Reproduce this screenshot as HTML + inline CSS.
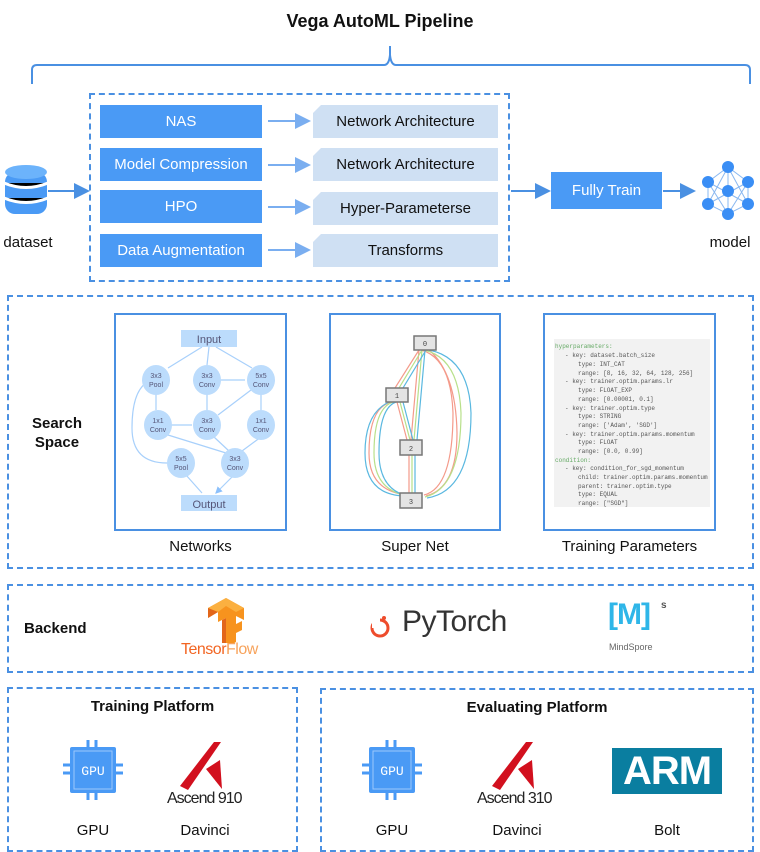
<!DOCTYPE html>
<html><head><meta charset="utf-8"><style>
body{margin:0;width:760px;height:852px;background:#fff;font-family:"Liberation Sans",sans-serif;position:relative;overflow:hidden}
.a{position:absolute}
.dash{position:absolute;border:2px dashed #4a90e2;box-sizing:border-box}
.bb{position:absolute;background:#4a9af5;color:#fff;font-size:15px;display:flex;align-items:center;justify-content:center}
.lb{position:absolute;background:#cfe0f3;color:#111;font-size:15px;display:flex;align-items:center;justify-content:center;clip-path:polygon(8px 0,100% 0,100% 100%,0 100%,0 8px)}
.t{position:absolute;font-size:15px;color:#111;text-align:center}
.panel{position:absolute;border:2px solid #4a90e2;box-sizing:border-box;background:#fff}
</style></head><body>
<div class="t" style="left:0;width:760px;top:11px;font-size:18px;font-weight:bold">Vega AutoML Pipeline</div>
<svg class="a" style="left:0;top:0" width="760" height="300">
<path d="M32,84 V70 Q32,65 37,65 H384 Q389,65 390,55 V46 M390,55 Q391,65 396,65 H745 Q750,65 750,70 V84" fill="none" stroke="#4a90e2" stroke-width="2"/>
<defs><marker id="ar" markerWidth="8" markerHeight="8" refX="7" refY="4" orient="auto"><path d="M0,0 L8,4 L0,8z" fill="#4a90e2"/></marker>
<marker id="al" markerWidth="8" markerHeight="8" refX="7" refY="4" orient="auto"><path d="M0,0 L8,4 L0,8z" fill="#7aaef0"/></marker></defs>
<g stroke="#7aaef0" stroke-width="2" marker-end="url(#al)">
<line x1="268" y1="121" x2="309" y2="121"/><line x1="268" y1="165" x2="309" y2="165"/>
<line x1="268" y1="207" x2="309" y2="207"/><line x1="268" y1="250" x2="309" y2="250"/></g>
<g stroke="#4a90e2" stroke-width="2" marker-end="url(#ar)">
<line x1="48" y1="191" x2="88" y2="191"/><line x1="511" y1="191" x2="549" y2="191"/><line x1="663" y1="191" x2="694" y2="191"/></g>
<g fill="#4a9af5"><rect x="5" y="172" width="42" height="42" rx="10"/></g>
<ellipse cx="26" cy="172" rx="21" ry="7" fill="#6cb3fb"/>
<g stroke="#fff" stroke-width="3"><path d="M4,183 Q26,192 48,183 M4,198 Q26,207 48,198"/></g>
<g stroke="#8ab8f0" stroke-width="1" fill="none"><path d="M728,167 L708,182 L708,204 L728,214 L748,204 L748,182 Z M728,167 L728,191 L728,214 M708,182 L748,204 M748,182 L708,204 M708,182 L728,214 M748,182 L728,214 M728,167 L708,204 M728,167 L748,204"/></g>
<g fill="#3a8ef5"><circle cx="728" cy="167" r="6"/><circle cx="708" cy="182" r="6"/><circle cx="748" cy="182" r="6"/><circle cx="728" cy="191" r="6"/><circle cx="708" cy="204" r="6"/><circle cx="748" cy="204" r="6"/><circle cx="728" cy="214" r="6"/></g>
</svg>
<div class="dash" style="left:89px;top:93px;width:421px;height:189px"></div>
<div class="bb" style="left:100px;top:105px;width:162px;height:33px">NAS</div>
<div class="bb" style="left:100px;top:148px;width:162px;height:33px">Model Compression</div>
<div class="bb" style="left:100px;top:190px;width:162px;height:33px">HPO</div>
<div class="bb" style="left:100px;top:234px;width:162px;height:33px">Data Augmentation</div>
<div class="lb" style="left:313px;top:105px;width:185px;height:33px">Network Architecture</div>
<div class="lb" style="left:313px;top:148px;width:185px;height:33px">Network Architecture</div>
<div class="lb" style="left:313px;top:192px;width:185px;height:33px">Hyper-Parameterse</div>
<div class="lb" style="left:313px;top:234px;width:185px;height:33px">Transforms</div>
<div class="bb" style="left:551px;top:172px;width:111px;height:37px">Fully Train</div>
<div class="t" style="left:0;top:234px;width:56px">dataset</div>
<div class="t" style="left:700px;top:234px;width:60px">model</div>

<div class="dash" style="left:7px;top:295px;width:747px;height:274px"></div>
<div class="t" style="left:22px;top:414px;width:70px;font-weight:bold;line-height:19px">Search<br>Space</div>
<div class="panel" style="left:114px;top:313px;width:173px;height:218px">
<svg width="169" height="214" style="font-family:'Liberation Sans';font-size:7px;position:absolute;left:-2px;top:-2px">
<defs><marker id="sa" markerWidth="6" markerHeight="6" refX="5" refY="3" orient="auto"><path d="M0,0 L6,3 L0,6z" fill="#8cc0fb"/></marker></defs>
<g stroke="#a8d0fb" stroke-width="1.2" fill="none" marker-end="url(#sa)">
<path d="M88,34 L54,55 M95,34 L93,52 M102,34 L138,55 M42,81 V97 M93,81 V97 M107,67 H131 M147,81 V97 M137,77 L104,102 M56,112 H78 M54,122 L112,140 M100,124 L115,138 M147,124 L128,138 M32,70 Q18,80 18,115 Q18,150 53,150 M72,162 L88,180 M118,164 L102,180"/></g>
<g fill="#bcdcfc"><rect x="67" y="17" width="56" height="17"/><rect x="67" y="182" width="56" height="16"/>
<ellipse cx="42" cy="67" rx="14" ry="15"/><ellipse cx="93" cy="67" rx="14" ry="15"/><ellipse cx="147" cy="67" rx="14" ry="15"/>
<ellipse cx="44" cy="112" rx="14" ry="15"/><ellipse cx="93" cy="112" rx="14" ry="15"/><ellipse cx="147" cy="112" rx="14" ry="15"/>
<ellipse cx="67" cy="150" rx="14" ry="15"/><ellipse cx="121" cy="150" rx="14" ry="15"/></g>
<g fill="#557" text-anchor="middle"><text x="95" y="30" font-size="11">Input</text><text x="95" y="195" font-size="11">Output</text>
<text x="42" y="65">3x3</text><text x="42" y="74">Pool</text><text x="93" y="65">3x3</text><text x="93" y="74">Conv</text><text x="147" y="65">5x5</text><text x="147" y="74">Conv</text>
<text x="44" y="110">1x1</text><text x="44" y="119">Conv</text><text x="93" y="110">3x3</text><text x="93" y="119">Conv</text><text x="147" y="110">1x1</text><text x="147" y="119">Conv</text>
<text x="67" y="148">5x5</text><text x="67" y="157">Pool</text><text x="121" y="148">3x3</text><text x="121" y="157">Conv</text></g></svg></div>
<div class="panel" style="left:329px;top:313px;width:172px;height:218px">
<svg width="172" height="218" style="font-family:'Liberation Mono';font-size:7px;position:absolute;left:-2px;top:-2px">
<g fill="none" stroke-width="1.2">
<path d="M90,37 L66,75 M92,37 Q122,45 124,100 Q124,175 95,182 M62,89 Q40,95 40,140 Q40,178 78,182 M68,89 L78,127 M90,37 L82,127 M80,142 L80,180 M100,37 Q127,60 128,120 Q128,175 97,183" stroke="#f49a8a"/>
<path d="M93,37 L70,75 M95,37 Q130,45 132,100 Q132,175 96,184 M64,89 Q45,95 45,140 Q45,178 80,183 M71,89 L81,127 M93,37 L85,127 M83,142 L83,180" stroke="#b8e08a"/>
<path d="M97,37 L74,75 M100,37 Q140,45 142,100 Q142,178 98,185 M67,89 Q50,95 50,140 Q50,178 82,184 M74,89 L84,127 M96,37 L88,127 M86,142 L86,180 M60,89 Q36,100 36,140 Q36,182 76,183" stroke="#5ab8e0"/></g>
<g fill="#e4e4e4" stroke="#777" stroke-width="1.5"><rect x="85" y="23" width="22" height="14"/><rect x="57" y="75" width="22" height="14"/><rect x="71" y="127" width="22" height="15"/><rect x="71" y="180" width="22" height="15"/></g>
<g fill="#444" text-anchor="middle"><text x="96" y="33">0</text><text x="68" y="85">1</text><text x="82" y="138">2</text><text x="82" y="191">3</text></g></svg></div>
<div class="panel" style="left:543px;top:313px;width:173px;height:218px">
<div class="a" style="left:9px;top:24px;width:156px;height:168px;background:#f2f2f2"></div>
<svg class="a" style="left:0;top:0" width="169" height="214"><g font-family="Liberation Mono" font-size="6" fill="#555">
<text x="10" y="33" fill="#6a6">hyperparameters:</text>
<text x="20" y="42">-  key: dataset.batch_size</text><text x="33" y="51">type: INT_CAT</text><text x="33" y="60">range: [8, 16, 32, 64, 128, 256]</text>
<text x="20" y="68">-  key: trainer.optim.params.lr</text><text x="33" y="77">type: FLOAT_EXP</text><text x="33" y="86">range: [0.00001, 0.1]</text>
<text x="20" y="95">-  key: trainer.optim.type</text><text x="33" y="103">type: STRING</text><text x="33" y="112">range: ['Adam', 'SGD']</text>
<text x="20" y="121">-  key: trainer.optim.params.momentum</text><text x="33" y="129">type: FLOAT</text><text x="33" y="138">range: [0.0, 0.99]</text>
<text x="10" y="147" fill="#6a6">condition:</text>
<text x="20" y="155">-  key: condition_for_sgd_momentum</text><text x="33" y="164">child: trainer.optim.params.momentum</text><text x="33" y="173">parent: trainer.optim.type</text><text x="33" y="181">type: EQUAL</text><text x="33" y="190">range: ["SGD"]</text>
</g></svg></div>
<div class="t" style="left:114px;top:538px;width:173px">Networks</div>
<div class="t" style="left:329px;top:538px;width:172px">Super Net</div>
<div class="t" style="left:543px;top:538px;width:173px">Training Parameters</div>

<div class="dash" style="left:7px;top:584px;width:747px;height:89px"></div>
<div class="t" style="left:24px;top:620px;font-weight:bold;text-align:left">Backend</div>
<svg class="a" style="left:200px;top:598px" width="50" height="45">
<path d="M8,10 L26,0 L44,10 L44,22 L36,18 L36,26 L42,23 L42,32 L36,35 L36,44 L26,50 L26,20 L18,24 L18,14 L8,20Z" fill="#f7931e"/>
<path d="M26,0 L44,10 L36,14 L26,8 L18,14 L8,10Z" fill="#fbb040"/>
<path d="M26,20 L26,50 L22,47 L22,22Z M8,10 L8,20 L18,14Z" fill="#e2661a"/></svg>
<div class="a" style="left:181px;top:641px;font-size:16px;color:#f26522;letter-spacing:-0.5px">Tensor<span style="color:#f7a35c">Flow</span></div>
<svg class="a" style="left:368px;top:612px" width="26" height="28"><circle cx="12" cy="16" r="8" fill="none" stroke="#ee4c2c" stroke-width="3"/><rect x="4" y="4" width="8" height="12" fill="#fff"/><circle cx="16" cy="6" r="2" fill="#ee4c2c"/></svg>
<div class="a" style="left:402px;top:605px;font-size:30px;color:#333;letter-spacing:-0.5px">PyTorch</div>
<div class="a" style="left:608px;top:598px;font-size:30px;font-weight:bold;color:#2fb6e8;letter-spacing:-1px">[M]</div>
<div class="a" style="left:661px;top:600px;font-size:10px;font-weight:bold;color:#555">s</div>
<div class="a" style="left:609px;top:642px;font-size:9px;color:#666">MindSpore</div>

<div class="dash" style="left:7px;top:687px;width:291px;height:165px"></div>
<div class="dash" style="left:320px;top:688px;width:434px;height:164px"></div>
<div class="t" style="left:7px;top:698px;width:291px;font-weight:bold">Training Platform</div>
<div class="t" style="left:320px;top:699px;width:434px;font-weight:bold">Evaluating Platform</div>
<svg class="a" style="left:63px;top:740px" width="60" height="60"><g stroke="#4a9af5" stroke-width="3"><path d="M25,0v8M33,0v8M25,52v8M33,52v8M0,25h8M0,33h8M52,25h8M52,33h8"/></g><rect x="7" y="7" width="46" height="46" rx="2" fill="#4a9af5"/><rect x="11" y="11" width="38" height="38" fill="none" stroke="#9cc8fb" stroke-width="1"/><text x="30" y="35" fill="#fff" font-family="Liberation Mono" font-size="13" text-anchor="middle">GPU</text></svg>
<svg class="a" style="left:362px;top:740px" width="60" height="60"><g stroke="#4a9af5" stroke-width="3"><path d="M25,0v8M33,0v8M25,52v8M33,52v8M0,25h8M0,33h8M52,25h8M52,33h8"/></g><rect x="7" y="7" width="46" height="46" rx="2" fill="#4a9af5"/><rect x="11" y="11" width="38" height="38" fill="none" stroke="#9cc8fb" stroke-width="1"/><text x="30" y="35" fill="#fff" font-family="Liberation Mono" font-size="13" text-anchor="middle">GPU</text></svg>
<svg class="a" style="left:180px;top:742px" width="50" height="48"><path d="M34,0 L41,0 L8,48 L0,44Z" fill="#d2101e"/><path d="M26,27 L40,18 L42,47 Z" fill="#d2101e"/></svg>
<svg class="a" style="left:492px;top:742px" width="50" height="48"><path d="M34,0 L41,0 L8,48 L0,44Z" fill="#d2101e"/><path d="M26,27 L40,18 L42,47 Z" fill="#d2101e"/></svg>
<div class="a" style="left:167px;top:790px;font-size:16px;color:#222;letter-spacing:-1px">Ascend 910</div>
<div class="a" style="left:477px;top:790px;font-size:16px;color:#222;letter-spacing:-1px">Ascend 310</div>
<div class="a" style="left:612px;top:748px;width:110px;height:46px;background:#0a7ea0;color:#fff;font-size:40px;font-weight:bold;display:flex;align-items:center;justify-content:center;letter-spacing:-1px">ARM</div>
<div class="t" style="left:63px;top:822px;width:60px">GPU</div>
<div class="t" style="left:170px;top:822px;width:70px">Davinci</div>
<div class="t" style="left:362px;top:822px;width:60px">GPU</div>
<div class="t" style="left:482px;top:822px;width:70px">Davinci</div>
<div class="t" style="left:632px;top:822px;width:70px">Bolt</div>
</body></html>
